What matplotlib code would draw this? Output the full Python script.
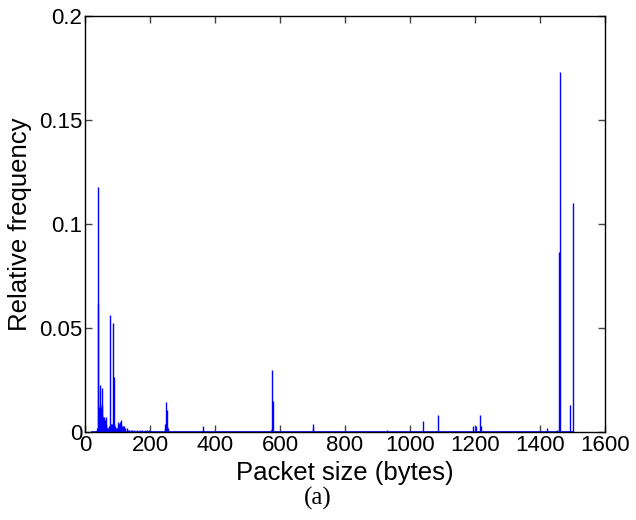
import numpy as np
import matplotlib
matplotlib.use("Agg")
import matplotlib.pyplot as plt

# Packet sizes (bytes) and their relative frequencies
sizes = [20, 30, 36, 38, 40, 41, 42, 43, 44, 45, 46, 47, 48, 49, 50, 51, 52, 53, 54, 55,
         56, 57, 58, 59, 60, 61, 62, 63, 64, 65, 66, 67, 68, 70, 71, 73, 74, 76, 78, 79,
         80, 82, 84, 86, 88, 89, 90, 92, 94, 98, 100, 102, 104, 106, 108, 110, 112, 114,
         116, 118, 120, 124, 128, 132, 136, 140, 146, 152, 160, 168, 176, 184, 190, 196,
         245, 247, 249, 251, 253, 255, 362, 364, 572, 574, 576, 578, 700, 702, 928,
         1041, 1085, 1195, 1202, 1216, 1219, 1423, 1451, 1459, 1460, 1491, 1500]
freqs = [0.0, 0.0005, 0.001, 0.002, 0.118, 0.0615, 0.012, 0.008, 0.006, 0.010, 0.0226,
         0.014, 0.010, 0.012, 0.009, 0.021, 0.013, 0.008, 0.007, 0.006, 0.004, 0.005,
         0.007, 0.006, 0.005, 0.003, 0.004, 0.006, 0.007, 0.004, 0.003, 0.002, 0.002,
         0.001, 0.002, 0.002, 0.003, 0.003, 0.0564, 0.004, 0.002, 0.003, 0.004, 0.0525,
         0.0266, 0.004, 0.002, 0.003, 0.002, 0.002, 0.003, 0.005, 0.004, 0.004, 0.005,
         0.006, 0.004, 0.003, 0.003, 0.002, 0.003, 0.002, 0.002, 0.001, 0.001, 0.001,
         0.0008, 0.0008, 0.0008, 0.0008, 0.0008, 0.0008, 0.001, 0.0008,
         0.002, 0.004, 0.0146, 0.0106, 0.003, 0.002, 0.003, 0.001, 0.001, 0.002, 0.0298,
         0.015, 0.0037, 0.002, 0.001,
         0.0054, 0.0083, 0.003, 0.003, 0.0082, 0.003, 0.002, 0.001, 0.0865, 0.173,
         0.013, 0.110]

xticks = [0, 200, 400, 600, 800, 1000, 1200, 1400, 1600]
yticks = [0, 0.05, 0.1, 0.15, 0.2]
ytick_labels = ["0", "0.05", "0.1", "0.15", "0.2"]

plt.rcParams['font.family'] = ['Liberation Sans', 'DejaVu Sans']

fig = plt.figure(figsize=(6.36, 5.2), dpi=100)
ax = fig.add_axes([85 / 636, 88 / 520, 520 / 636, 416 / 520])

x = np.array(sizes)
y = np.array(freqs)
ax.vlines(x, 0, y, colors='#0000ff', linewidth=1.0)
ax.plot([x.min(), x.max()], [0, 0], color='#0000ff', linewidth=1.2)

ax.set_xlim(0, 1600)
ax.set_ylim(0, 0.2)
ax.set_xticks(xticks)
ax.set_xticklabels([str(t) for t in xticks])
ax.set_yticks(yticks)
ax.set_yticklabels(ytick_labels)

ax.tick_params(direction='in', length=5, width=1, top=True, right=True,
               labelsize=16, pad=2, color='#444444')
for sp in ax.spines.values():
    sp.set_linewidth(1.0)
    sp.set_color('black')

ax.set_xlabel('Packet size (bytes)', fontsize=18.5, labelpad=4)
ax.set_ylabel('Relative frequency', fontsize=18.5)
ax.yaxis.set_label_coords(-0.102, 0.5)

fig.text(318 / 636, 1 - 498 / 520, '(a)', ha='center', va='center',
         family=['Liberation Serif', 'DejaVu Serif'], fontsize=18)

fig.savefig('out.png', dpi=100)
